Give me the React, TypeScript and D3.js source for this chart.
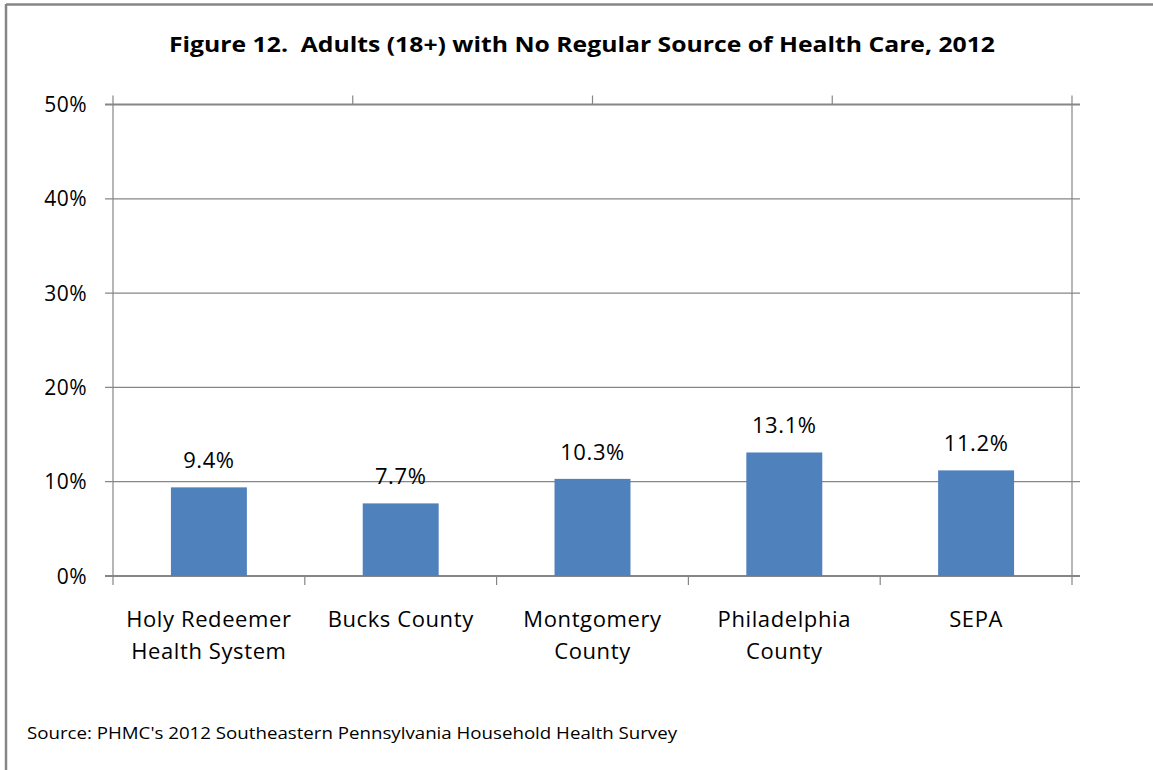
import React from "react";
import * as d3 from "d3";

const categories: string[][] = [
  ["Holy Redeemer", "Health System"],
  ["Bucks County"],
  ["Montgomery", "County"],
  ["Philadelphia", "County"],
  ["SEPA"],
];
const values: number[] = [0.094, 0.077, 0.103, 0.131, 0.112];
const valueLabels: string[] = ["9.4%", "7.7%", "10.3%", "13.1%", "11.2%"];
const yTicks: number[] = [0, 0.1, 0.2, 0.3, 0.4, 0.5];
const title = "Figure 12.  Adults (18+) with No Regular Source of Health Care, 2012";
const source = "Source: PHMC's 2012 Southeastern Pennsylvania Household Health Survey";

const W = 1153;
const H = 770;
const FONT = "'Open Sans', Lato, sans-serif";
const GRID = "#868686";

export default function App() {
  const left = 113;
  const right = 1072;
  const top = 104.5;
  const bottom = 576;
  const keys = categories.map((c) => c.join(" "));
  const x = d3.scaleBand<string>().domain(keys).range([left, right]).paddingInner(0.604).paddingOuter(0.302);
  const slot = d3.scaleLinear().domain([0, categories.length]).range([left, right]);
  const topAxis = d3.scaleLinear().domain([0, 4]).range([left, right]);
  const y = d3.scaleLinear().domain([0, 0.5]).range([bottom, top]);
  const fmt = d3.format(".0%");

  return (
    <svg width={W} height={H} style={{ position: "absolute", left: 0, top: 0, background: "#fff" }}>
      <rect x={0} y={0} width={W} height={H} fill="#fff" />
      {/* outer frame */}
      <line x1={6} x2={W} y1={4.5} y2={4.5} stroke={GRID} strokeWidth={2.5} />
      <line x1={6} x2={6} y1={4} y2={H} stroke={GRID} strokeWidth={2.5} />

      <text x={582} y={52} textAnchor="middle" fontFamily={FONT} fontWeight={700} fontSize={22}
        textLength={826} lengthAdjust="spacingAndGlyphs" fill="#000" style={{ whiteSpace: "pre" }}>{title}</text>

      {/* gridlines */}
      {yTicks.map((t) => (
        <line key={"g" + t} x1={left - 8} x2={right + 8} y1={y(t)} y2={y(t)} stroke={GRID}
          strokeWidth={t === 0 || t === 0.5 ? 2 : 1.2} />
      ))}
      {/* axes */}
      <line x1={left} x2={left} y1={top - 9} y2={bottom + 9} stroke={GRID} strokeWidth={1.2} />
      <line x1={right} x2={right} y1={top - 9} y2={bottom + 9} stroke={GRID} strokeWidth={1.2} />
      {d3.range(1, categories.length).map((i) => (
        <line key={"bt" + i} x1={slot(i)} x2={slot(i)} y1={bottom} y2={bottom + 9} stroke={GRID} strokeWidth={1.2} />
      ))}
      {d3.range(1, 4).map((i) => (
        <line key={"tt" + i} x1={topAxis(i)} x2={topAxis(i)} y1={top - 9} y2={top} stroke={GRID} strokeWidth={1.2} />
      ))}

      {/* y tick labels */}
      {yTicks.map((t) => (
        <text key={"yl" + t} x={87} y={y(t)} dy="0.36em" textAnchor="end" fontFamily={FONT} fontSize={21}
          letterSpacing={0.5} fill="#000">
          {fmt(t)}
        </text>
      ))}

      {/* bars */}
      {values.map((v, i) => (
        <rect key={"b" + i} x={x(keys[i])} y={y(v)} width={x.bandwidth()} height={bottom - y(v)} fill="#4F81BD" />
      ))}
      {values.map((v, i) => (
        <text key={"v" + i} x={(x(keys[i]) as number) + x.bandwidth() / 2} y={y(v) - 19} textAnchor="middle"
          fontFamily={FONT} fontSize={22} letterSpacing={0.6} fill="#000">{valueLabels[i]}</text>
      ))}

      {/* category labels */}
      {categories.map((lines, i) => (
        <text key={"c" + i} x={(x(keys[i]) as number) + x.bandwidth() / 2} y={627} textAnchor="middle"
          fontFamily={FONT} fontSize={22} letterSpacing={0.6} fill="#000">
          {lines.map((l, j) => (
            <tspan key={j} x={(x(keys[i]) as number) + x.bandwidth() / 2} dy={j === 0 ? 0 : 32}>{l}</tspan>
          ))}
        </text>
      ))}

      <text x={27} y={739} fontFamily={FONT} fontSize={17} fontWeight={500} textLength={650}
        lengthAdjust="spacingAndGlyphs" fill="#000">{source}</text>
    </svg>
  );
}
